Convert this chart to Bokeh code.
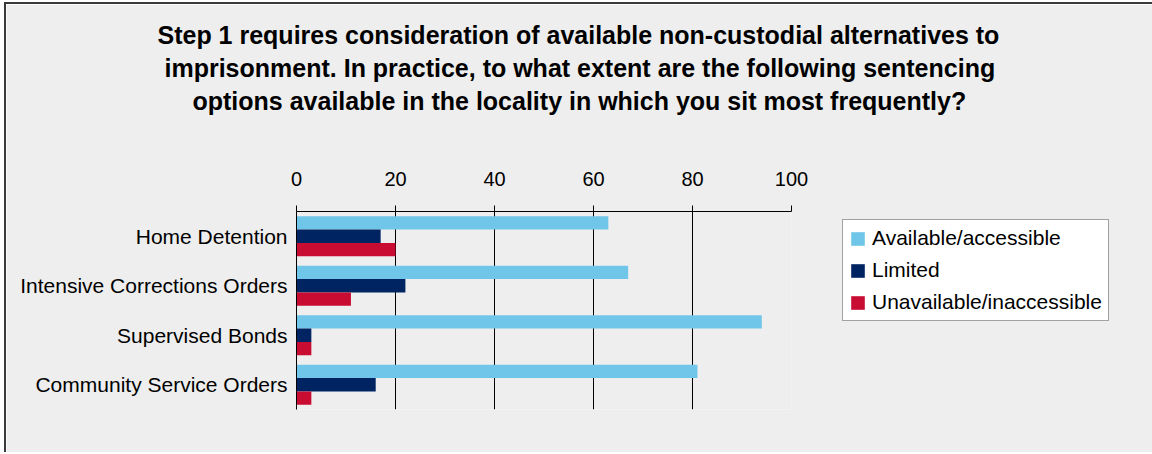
from bokeh.plotting import figure
from bokeh.models import (ColumnDataSource, FactorRange, FixedTicker, Legend,
                          LegendItem, Title)
from bokeh.transform import dodge
from bokeh.embed import file_html
from bokeh.resources import INLINE

categories = ["Home Detention", "Intensive Corrections Orders",
              "Supervised Bonds", "Community Service Orders"]
available = [63, 67, 94, 81]
limited = [17, 22, 3, 16]
unavailable = [20, 11, 3, 3]
series_names = ["Available/accessible", "Limited", "Unavailable/inaccessible"]
x_ticks = [0, 20, 40, 60, 80, 100]
title_lines = [
    "Step 1 requires consideration of available non-custodial alternatives to",
    "imprisonment. In practice, to what extent are the following sentencing",
    "options available in the locality in which you sit most frequently?",
]

colors = ["#70C6E8", "#002462", "#C80C32"]
FONT = "Liberation Sans"
BG = "#EEEEEE"

source = ColumnDataSource(dict(cat=categories, available=available,
                               limited=limited, unavailable=unavailable))

p = figure(frame_width=495, frame_height=198, output_backend="svg",
           toolbar_location=None,
           y_range=FactorRange(factors=list(reversed(categories)), range_padding=0),
           x_range=(0, 100), x_axis_location="above",
           min_border_left=290, min_border_right=354, min_border_top=207,
           min_border_bottom=43)
p.styles = {"border-left": "2px solid #3a3a3a", "border-top": "2px solid #3a3a3a",
            "margin-left": "4px", "margin-top": "2px"}
p.background_fill_color = BG
p.border_fill_color = BG
p.outline_line_color = None

bh = 0.27
r1 = p.hbar(y=dodge("cat", bh, range=p.y_range), right="available", left=0,
            height=bh, source=source, fill_color=colors[0], line_color=None)
r2 = p.hbar(y=dodge("cat", 0, range=p.y_range), right="limited", left=0,
            height=bh, source=source, fill_color=colors[1], line_color=None)
r3 = p.hbar(y=dodge("cat", -bh, range=p.y_range), right="unavailable", left=0,
            height=bh, source=source, fill_color=colors[2], line_color=None)

xa = p.xaxis[0]
xa.ticker = FixedTicker(ticks=x_ticks)
xa.minor_tick_line_color = None
xa.major_tick_out = 6
xa.major_tick_in = 0
xa.axis_line_color = "black"
xa.major_tick_line_color = "black"
xa.major_label_text_font = FONT
xa.major_label_text_font_size = "20px"
xa.major_label_text_color = "black"
xa.major_label_standoff = 20

ya = p.yaxis[0]
ya.major_tick_line_color = None
ya.minor_tick_line_color = None
ya.axis_line_color = "black"
ya.major_label_text_font = FONT
ya.major_label_text_font_size = "21px"
ya.major_label_text_color = "black"
ya.major_label_standoff = 3

p.ygrid.grid_line_color = None
p.xgrid.grid_line_color = "black"
p.xgrid.grid_line_width = 1
p.xgrid.ticker = FixedTicker(ticks=x_ticks)

# spacer between axis and title block
p.add_layout(Title(text=" ", text_font=FONT, text_font_size="25px", standoff=22),
             "above")
# title lines, innermost first; left-aligned with offsets to centre each line
line_offsets = [-139, -132, -104]
for line, off in reversed(list(zip(title_lines, line_offsets))):
    p.add_layout(Title(text=line, align="left", offset=off, text_font=FONT,
                       text_font_size="25px", text_font_style="bold",
                       text_color="black", standoff=3), "above")

legend = Legend(items=[LegendItem(label=series_names[0], renderers=[r1]),
                       LegendItem(label=series_names[1], renderers=[r2]),
                       LegendItem(label=series_names[2], renderers=[r3])],
                location=(51, 88))
legend.background_fill_color = "white"
legend.background_fill_alpha = 1
legend.border_line_color = "#444444"
legend.border_line_width = 1
legend.label_text_font = FONT
legend.label_text_font_size = "21px"
legend.label_text_color = "black"
legend.glyph_width = 17
legend.glyph_height = 17
legend.label_standoff = 6
legend.label_height = 20
legend.spacing = 8
legend.padding = 6
legend.margin = 0
p.add_layout(legend, "right")

open("out.html", "w").write(file_html(p, INLINE))
